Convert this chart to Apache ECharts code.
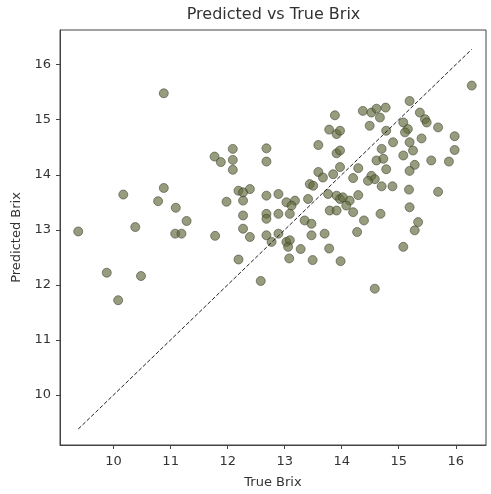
<!DOCTYPE html>
<html>
<head>
<meta charset="utf-8">
<script src="https://cdn.jsdelivr.net/npm/echarts@6/dist/echarts.min.js"></script>
<style>
html,body{margin:0;padding:0;background:#fff;}
#chart{width:491px;height:494px;}
</style>
</head>
<body>
<div id="chart"></div>
<script>
// True Brix values (x)
const trueBrix = [
10.88,10.17,10.88,10.78,11.09,11.28,11.08,11.19,10.38,9.38,
11.78,9.88,10.48,10.08,12.19,11.77,11.88,12.09,12.09,12.09,
11.98,12.19,16.28,15.19,14.37,14.52,14.61,14.77,14.67,14.49,
13.88,15.37,15.46,15.49,15.69,13.78,13.91,13.97,14.78,15.08,
15.16,15.11,15.40,15.98,14.90,15.19,15.25,15.98,13.59,12.68,
14.70,13.91,13.97,15.08,12.68,15.57,15.88,14.61,14.73,14.78,
15.28,15.19,14.29,13.97,13.85,13.59,13.67,14.20,14.52,14.58,
14.46,13.44,13.50,14.70,14.89,15.18,15.69,12.39,12.27,13.76,
13.91,13.97,12.68,12.89,13.03,13.18,13.12,13.41,14.02,14.14,
14.08,14.29,13.79,13.91,14.20,12.27,12.27,12.68,12.68,12.89,
13.09,14.68,15.19,13.35,13.47,14.39,12.27,12.39,12.68,12.77,
12.89,13.03,13.09,13.06,13.47,13.70,14.27,15.34,15.28,15.08,
13.28,13.78,13.08,13.49,13.98,12.58,14.58
];
// Predicted Brix values (y)
const predictedBrix = [
15.48,13.64,13.76,13.52,13.40,13.16,12.93,12.93,13.05,12.97,
12.89,12.22,12.16,11.72,12.46,14.33,14.23,14.47,14.27,14.09,
13.51,13.71,15.62,15.34,15.16,15.13,15.20,15.22,15.04,14.89,
15.08,15.13,15.01,14.95,14.86,14.82,14.74,14.80,14.80,14.95,
14.83,14.77,14.66,14.70,14.59,14.59,14.44,14.45,14.54,14.48,
14.47,14.39,14.44,14.35,14.24,14.26,14.24,14.26,14.29,14.10,
14.18,14.07,14.12,14.14,14.01,14.05,13.95,13.94,13.98,13.92,
13.89,13.83,13.80,13.79,13.79,13.73,13.69,13.74,13.68,13.65,
13.62,13.56,13.62,13.65,13.50,13.53,13.44,13.56,13.59,13.53,
13.44,13.63,13.35,13.35,13.32,13.53,13.26,13.29,13.20,13.29,
13.29,13.29,13.41,13.17,13.11,13.17,13.02,12.87,12.90,12.78,
12.93,12.78,12.81,12.69,12.90,12.93,12.96,13.14,12.99,12.69,
12.65,12.66,12.48,12.45,12.43,12.07,11.93
];
// Identity reference line endpoints (min and max of true Brix)
const lineEnds = [9.38, 16.28];
const xTicks = [10, 11, 12, 13, 14, 15, 16];
const yTicks = [10, 11, 12, 13, 14, 15, 16];

const points = trueBrix.map((v, i) => [v, predictedBrix[i]]);
const lineData = lineEnds.map(v => [v, v]);

const FONT = 'DejaVu Sans';
const chart = echarts.init(document.getElementById('chart'), null, {renderer: 'canvas'});

const axisCommon = {
  type: 'value',
  axisLine: {show: true, onZero: false, lineStyle: {color: '#444', width: 1}},
  splitLine: {show: false},
  nameLocation: 'middle',
  nameTextStyle: {fontFamily: FONT, fontSize: 13, color: '#333'}
};

chart.setOption({
  animation: false,
  backgroundColor: '#fff',
  graphic: [{
    type: 'text', x: 273.5, y: 7,
    style: {text: 'Predicted vs True Brix', textAlign: 'center', textVerticalAlign: 'top',
      font: '16px "DejaVu Sans"', fill: '#333'}
  }],
  grid: {left: 60, right: 5, top: 30, bottom: 47, show: true, borderColor: '#444', borderWidth: 1},
  xAxis: Object.assign({}, axisCommon, {
    min: 9.06, max: 16.53,
    name: 'True Brix', nameGap: 31,
    axisTick: {show: true, length: 4, lineStyle: {color: '#444'}, customValues: xTicks},
    axisLabel: {fontFamily: FONT, fontSize: 13, color: '#333', margin: 10, customValues: xTicks}
  }),
  yAxis: Object.assign({}, axisCommon, {
    min: 9.09, max: 16.63,
    name: 'Predicted Brix', nameGap: 37,
    axisTick: {show: true, length: 4, lineStyle: {color: '#444'}, customValues: yTicks},
    axisLabel: {fontFamily: FONT, fontSize: 13, color: '#333', margin: 9, customValues: yTicks}
  }),
  series: [
    {
      type: 'line', data: lineData, symbol: 'none', silent: true,
      lineStyle: {color: '#222', width: 1, type: [4, 2]}, z: 3
    },
    {
      type: 'scatter', data: points, symbolSize: 9, z: 2,
      itemStyle: {color: 'rgba(95,106,58,0.82)', borderColor: 'rgba(60,62,45,0.7)', borderWidth: 1}
    }
  ]
});
</script>
</body>
</html>
